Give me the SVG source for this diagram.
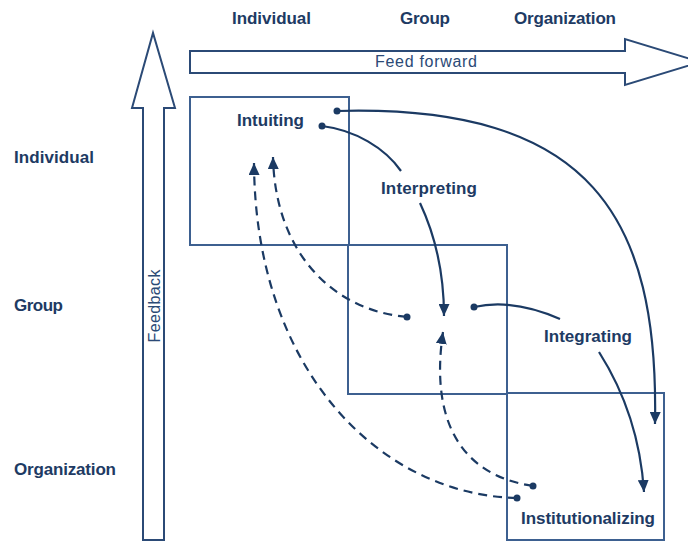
<svg xmlns="http://www.w3.org/2000/svg" width="688" height="542" viewBox="0 0 688 542">
<style>
.big{fill:#fff;stroke:#2b4a76;stroke-width:2}
.box{fill:none;stroke:#3d6090;stroke-width:2}
.lbl{font-family:"Liberation Sans",Arial,sans-serif;font-weight:bold;font-size:17px;fill:#203a63}
.reg{font-family:"Liberation Sans",Arial,sans-serif;font-size:16px;fill:#2b4a76}
.c{fill:none;stroke:#1b3a63;stroke-width:2.2}
.d{stroke-dasharray:9 6}
.dot{fill:#1b3a63}
</style>
<defs>
<marker id="ah" markerUnits="userSpaceOnUse" markerWidth="13" markerHeight="11" refX="12" refY="5.5" orient="auto">
<path d="M0,0 L12,5.5 L0,11 z" fill="#1b3a63"/>
</marker>
</defs>
<g id="levels-top">
<text class="lbl" x="232" y="24" textLength="79">Individual</text>
<text class="lbl" x="400" y="24" textLength="50">Group</text>
<text class="lbl" x="514" y="24" textLength="102">Organization</text>
</g>
<g id="levels-left">
<text class="lbl" x="14" y="163" textLength="80">Individual</text>
<text class="lbl" x="14" y="311" textLength="49">Group</text>
<text class="lbl" x="14" y="475" textLength="102">Organization</text>
</g>
<g id="feedforward">
<polygon class="big" points="190,51 625,51 625,39 700,62 625,85 625,73 190,73"/>
<text class="reg" x="375" y="67" textLength="102">Feed forward</text>
</g>
<g id="feedback">
<polygon class="big" points="143,540 143,108 132,108 153,33 175,108 164,108 164,540"/>
<text class="reg" transform="translate(160,306) rotate(-90)" text-anchor="middle" textLength="73">Feedback</text>
</g>
<g id="box-individual"><rect class="box" x="190" y="97" width="159" height="148"/></g>
<g id="box-group"><rect class="box" x="348" y="245" width="159" height="149"/></g>
<g id="box-organization"><rect class="box" x="507" y="393" width="157" height="147"/></g>
<g id="node-intuiting"><text class="lbl" x="237" y="126" textLength="67">Intuiting</text></g>
<g id="node-interpreting"><text class="lbl" x="381" y="194" textLength="96">Interpreting</text></g>
<g id="node-integrating"><text class="lbl" x="544" y="342" textLength="88">Integrating</text></g>
<g id="node-institutionalizing"><text class="lbl" x="521" y="524" textLength="134">Institutionalizing</text></g>
<g id="connectors">
<path class="c" d="M337,111 C592,104 659,218 655,424" marker-end="url(#ah)"/>
<path class="c" d="M322,126 C355,130 385,148 401,171 M420,203 C435,235 444,270 444,316" marker-end="url(#ah)"/>
<path class="c" d="M474,307 C505,300 535,308 560,319 M599,352 C620,385 640,430 644,492" marker-end="url(#ah)"/>
<path class="c d" d="M407,317 C330,310 275,250 273,157" marker-end="url(#ah)"/>
<path class="c d" d="M533,486 C460,475 430,420 443,332" marker-end="url(#ah)"/>
<path class="c d" d="M517,498 C380,495 255,370 254,163" marker-end="url(#ah)"/>
<circle class="dot" cx="337" cy="111" r="3.5"/>
<circle class="dot" cx="322" cy="126" r="3.5"/>
<circle class="dot" cx="474" cy="307" r="3.5"/>
<circle class="dot" cx="407" cy="317" r="3.5"/>
<circle class="dot" cx="533" cy="486" r="3.5"/>
<circle class="dot" cx="517" cy="498" r="3.5"/>
</g>
</svg>
